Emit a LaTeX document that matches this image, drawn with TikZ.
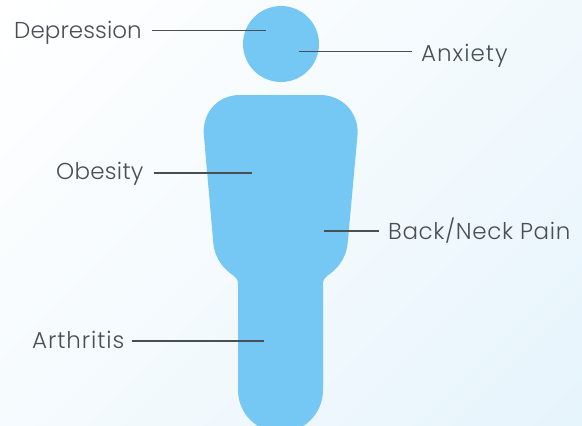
\documentclass[tikz,border=0pt]{standalone}
\usepackage{fontspec}
\setmainfont{Poppins}[UprightFont=* Light]
\definecolor{figblue}{HTML}{75C8F3}
\definecolor{inkgrey}{HTML}{4A4F55}
\definecolor{bgend}{HTML}{E6F4FC}
\tikzset{
  figure/.style={fill=figblue,draw=none},
  lbl/.style={text=inkgrey,font=\fontsize{23pt}{27pt}\selectfont\addfontfeature{LetterSpace=#1},inner xsep=0pt,inner ysep=2pt,text height=17pt,text depth=5pt},
  leader/.style={draw=inkgrey,line width=1.1pt}
}
\begin{document}
\begin{tikzpicture}[x=1pt,y=-1pt]
\useasboundingbox (0,0) rectangle (582,426);
\clip (0,0) rectangle (582,426);
\shade[top color=white,bottom color=bgend,middle color=white!55!bgend,shading angle=45] (-100,-100) rectangle (682,526);
\path[figure] (281,44) circle[radius=38];
\path[figure] (240,95) -- (320,95)
  .. controls (342,95) and (358,112) .. (357.7,133)
  -- (347.7,243)
  .. controls (346,260) and (336,270) .. (327,276)
  .. controls (324.5,278) and (323,280) .. (323,284)
  -- (323,390)
  arc[start angle=0,end angle=180,radius=42.5]
  -- (238,284)
  .. controls (238,280) and (236.5,278) .. (234,276)
  .. controls (225,270) and (215,260) .. (213.3,243)
  -- (203.7,133)
  .. controls (203,112) and (218,95) .. (240,95) -- cycle;
\coordinate (pDep) at (266,30.5);
\coordinate (pAnx) at (299,51.5);
\coordinate (pObe) at (252,173);
\coordinate (pBack) at (324,231);
\coordinate (pArt) at (264,341);
\node[lbl=0.4,anchor=west] (dep) at (14,32.5) {Depression};
\node[lbl=4.3,anchor=west] (anx) at (421,55) {Anxiety};
\node[lbl=1.2,anchor=west] (obe) at (56,173) {Obesity};
\node[lbl=2.8,anchor=west] (back) at (388,233) {Back/Neck Pain};
\node[lbl=4,anchor=west] (art) at (32,342) {Arthritis};
\draw[leader] ([xshift=10pt]dep.east|-pDep) -- (pDep);
\draw[leader] (pAnx) -- ([xshift=-9pt]anx.west|-pAnx);
\draw[leader] ([xshift=10pt]obe.east|-pObe) -- (pObe);
\draw[leader] (pBack) -- ([xshift=-9pt]back.west|-pBack);
\draw[leader] ([xshift=7pt]art.east|-pArt) -- (pArt);
\end{tikzpicture}
\end{document}
